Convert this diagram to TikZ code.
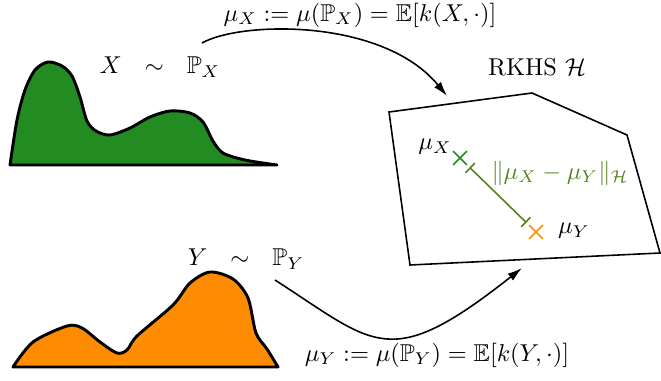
\documentclass[tikz,border=0pt]{standalone}
\usepackage{amsmath,amssymb}
\usetikzlibrary{arrows.meta,shapes.misc}
\definecolor{distgreen}{RGB}{34,139,34}
\definecolor{distorange}{RGB}{255,140,0}
\definecolor{normgreen}{RGB}{85,130,30}
\tikzset{
  density/.style={line width=1.2pt, line join=round},
  mapping/.style={line width=0.65pt, -{Latex[length=6pt,width=3.6pt]}},
  embed/.style={cross out, draw, line width=0.65pt, minimum size=5pt, inner sep=0pt},
  lbl/.style={inner sep=1pt},
}
\begin{document}
\begin{tikzpicture}[x=0.41pt,y=-0.41pt]
\useasboundingbox (0,0) rectangle (661,380);
% densities
\draw[density, fill=distgreen] plot[smooth, tension=0.5] coordinates {
 (10,165) (17,120) (25,90) (35,70) (48,62) (62,66) (72,76) (80,97) (87,121) (96,131)
 (110,135) (130,128) (150,117) (170,111) (190,113) (203,122) (213,141)
 (223,153) (245,160) (277,165)} -- cycle;
\draw[density, fill=distorange] plot[smooth, tension=0.5] coordinates {
 (13,367) (33,342) (67,326) (82,328) (100,342) (117,353) (127,350) (137,336)
 (173,305) (190,283) (210,272) (233,279) (248,298) (256,333) (267,349) (278,367)} -- cycle;
% labels
\node[lbl] (xlab) at (160,67) {$X\ \ \sim\ \ \mathbb{P}_X$};
\node[lbl] (ylab) at (246,259) {$Y\ \ \sim\ \ \mathbb{P}_Y$};
\node[lbl] (mxmap) at (360,15) {$\mu_X := \mu(\mathbb{P}_X) = \mathbb{E}[k(X,\cdot)]$};
\node[lbl] (mymap) at (437,355) {$\mu_Y := \mu(\mathbb{P}_Y) = \mathbb{E}[k(Y,\cdot)]$};
\node[lbl] (rkhs) at (537,67) {RKHS $\mathcal{H}$};
% RKHS region
\draw[line width=0.65pt, line join=miter] (389,112) -- (532,93) -- (627,135) -- (660,253) -- (410,265) -- cycle;
% embeddings
\node[embed, color=distgreen] (mx) at (460,158) {};
\node[embed, color=distorange] (my) at (536,232) {};
\node[lbl] (mxl) at (435,147) {$\mu_X$};
\node[lbl] (myl) at (574,231) {$\mu_Y$};
\draw[normgreen, line width=0.65pt, {Bar[width=5.5pt]}-{Bar[width=5.5pt]}, shorten <=5.5pt, shorten >=5.5pt] (mx.center) -- (my.center);
\node[lbl, text=normgreen] (norm) at (560,173) {$\|\mu_X - \mu_Y\|_{\mathcal{H}}$};
% mapping arrows
\coordinate (xs) at (202,43);
\coordinate (xe) at (447,96);
\coordinate (ys) at (275,280);
\coordinate (ye) at (522,268);
\draw[mapping] (xs) .. controls (241,21) and (383,18) .. (xe);
\draw[mapping] (ys) .. controls (376,345) and (389,373) .. (ye);
\end{tikzpicture}
\end{document}
